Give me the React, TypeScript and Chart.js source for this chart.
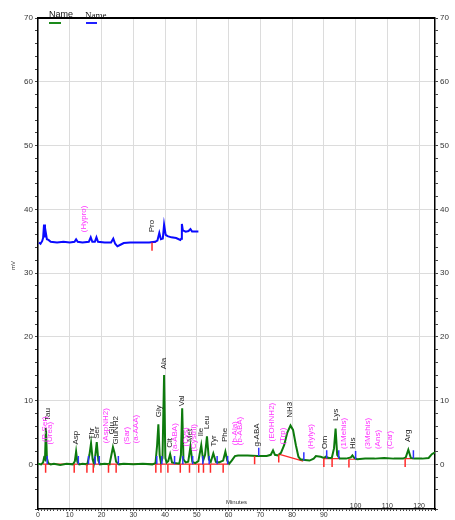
import React, { useEffect, useRef } from "react";
import { Chart, registerables } from "chart.js";
Chart.register(...registerables);

// Green trace (minutes, mV)
const greenTime = [0, 1.0, 1.6, 1.9, 2.2, 2.5, 2.8, 3.2, 4, 5, 7, 9, 11.0, 11.6, 12.0, 12.4, 13, 14, 15.5, 16.2, 16.7, 17.2, 17.6, 18.0, 18.5, 19.0, 19.5, 21, 22.5, 23.0, 23.6, 24.1, 24.6, 25.5, 27, 30, 33, 36, 37.0, 37.5, 37.9, 38.3, 38.7, 39.2, 39.7, 40.1, 40.5, 41.0, 41.6, 42.2, 43, 44.5, 45.0, 45.4, 45.8, 46.5, 47.3, 48.0, 48.6, 49.5, 50.5, 51.4, 52.0, 52.6, 53.2, 53.8, 54.4, 55.2, 56.0, 57, 58.3, 59.0, 59.6, 60.2, 61.0, 62.0, 63, 66, 69, 72, 73.3, 74.0, 74.6, 75.5, 76.5, 77.5, 78.5, 79.5, 80.3, 81.2, 82.0, 82.6, 84, 85.5, 86.8, 87.5, 89, 90.0, 90.6, 91.5, 92.5, 93.2, 93.7, 94.2, 95, 97, 98.5, 99.0, 99.6, 100.5, 103, 106, 109, 112, 115, 115.8, 116.6, 117.4, 118.5, 121, 123, 124, 125];
const greenMv = [0.1, 0.0, 0.3, 1.0, 0.8, 5.7, 1.0, 0.2, 0.0, 0.1, -0.1, 0.1, 0.0, 0.5, 2.0, 0.4, 0.0, 0.1, 0.0, 1.5, 3.3, 0.8, 0.1, 1.2, 3.5, 0.6, 0.0, 0.1, 0.0, 1.2, 2.7, 1.8, 0.4, 0.0, 0.1, 0.0, 0.1, 0.0, 0.2, 3.0, 6.3, 1.5, 0.3, 1.0, 14.0, 1.0, 0.3, 0.5, 1.6, 0.3, 0.2, 0.1, 1.5, 8.8, 0.8, 0.3, 0.4, 2.8, 0.4, 0.2, 0.5, 3.0, 0.6, 1.5, 4.4, 0.8, 0.4, 1.7, 0.4, 0.3, 0.6, 2.0, 0.6, 0.1, 0.6, 1.3, 1.4, 1.4, 1.3, 1.3, 1.5, 2.2, 1.5, 1.4, 1.8, 3.0, 5.0, 6.1, 5.4, 3.0, 1.2, 0.8, 0.7, 0.6, 0.9, 1.3, 1.2, 1.0, 1.2, 1.0, 1.0, 2.5, 5.6, 1.5, 0.9, 0.9, 1.1, 1.4, 1.0, 0.8, 0.9, 0.9, 1.0, 0.9, 0.9, 1.1, 2.3, 1.0, 0.9, 0.9, 1.0, 1.6, 1.9];

// Blue trace (minutes, mV)
const blueTime = [0.3, 0.8, 1.3, 1.6, 1.9, 2.2, 2.4, 2.8, 3.3, 4, 6, 8, 10, 11.5, 12.0, 12.5, 14, 16.0, 16.6, 17.1, 17.9, 18.4, 18.9, 21, 23.0, 23.7, 24.3, 25.0, 25.8, 27, 29, 32, 35, 36.8, 37.6, 38.2, 38.7, 39.3, 39.7, 40.2, 40.8, 42, 43.5, 44.8, 45.1, 45.3, 45.6, 46.5, 47.4, 48.0, 48.5, 50.5];
const blueMv = [34.8, 34.6, 35.0, 35.5, 37.6, 35.6, 36.5, 35.3, 35.2, 34.9, 34.8, 34.9, 34.8, 34.9, 35.3, 34.9, 34.8, 34.9, 35.6, 34.9, 34.9, 35.6, 34.9, 34.8, 34.8, 35.4, 34.6, 34.2, 34.4, 34.7, 34.8, 34.8, 34.8, 34.9, 35.1, 36.3, 35.3, 35.4, 37.6, 36.0, 35.8, 35.6, 35.5, 35.2, 35.4, 37.7, 36.7, 36.5, 36.6, 36.9, 36.5, 36.5];

// Integration marks: peak start (red, downward) and peak end (blue, upward)
const redMarkTime = [2.4, 11.4, 15.4, 17.4, 22.2, 24.6, 37.1, 38.7, 40.9, 44.8, 47.7, 50.6, 52.1, 54.3, 58.3, 68.2, 75.8, 90.0, 92.6, 97.9, 115.6, 35.9];
const redMarkBase = [0, 0, 0, 0, 0, 0, 0, 0, 0, 0, 0, 0, 0, 0, 0, 1.3, 1.6, 0.9, 0.9, 0.8, 0.9, 34.8];
const blueMarkTime = [2.9, 12.7, 15.9, 18.0, 19.3, 25.3, 37.4, 39.0, 43.0, 45.6, 48.7, 51.9, 53.9, 56.4, 59.7, 69.5, 83.7, 90.9, 94.7, 100.0, 118.2];
const blueMarkBase = [0, 0, 0, 0, 0, 0, 0, 0, 0, 0, 0, 0, 0, 0, 0, 1.3, 0.6, 0.9, 0.9, 0.8, 0.9];

// Red integration baselines
const baseStartTime = [1.5, 75.8, 89.8, 97.9, 115.6, 35.5];
const baseStartMv = [0.05, 1.6, 0.9, 0.8, 0.9, 34.8];
const baseEndTime = [60.0, 83.5, 95.0, 100.3, 118.2, 37.2];
const baseEndMv = [0.05, 0.5, 0.9, 0.8, 0.9, 34.8];

// Peak labels
const peakNames = ["Tau", "Asp", "Thr", "Ser", "Glu", "GluNH2", "Gly", "Ala", "Cit", "Val", "Met", "Ile", "Leu", "Tyr", "Phe", "g-ABA", "NH3", "Orn", "Lys", "His", "Arg", "Pro",
  "(P-Ser)", "(Urea)", "(AspNH2)", "(Sar)", "(a-AAA)", "(a-ABA)", "(Cys)", "(Cysthi)", "(b-Ala)", "(b-ABA)", "(EOHNH2)", "(Trp)", "(Hylys)", "(1Mehis)", "(3Mehis)", "(Ans)", "(Car)", "(Hypro)"];
const peakTime = [3.0, 12.0, 16.9, 18.6, 23.3, 24.4, 38.0, 39.6, 41.4, 45.3, 47.7, 51.4, 53.2, 55.3, 58.8, 68.8, 79.4, 90.2, 93.8, 99.0, 116.5, 35.9,
  2.2, 3.6, 21.5, 28.0, 30.9, 43.2, 46.6, 49.0, 62.0, 63.6, 73.7, 77.0, 85.8, 96.3, 103.7, 107.0, 110.8, 14.3];
const peakMv = [6.8, 3.1, 3.9, 4.0, 4.7, 3.1, 7.4, 14.9, 2.6, 9.1, 3.5, 4.4, 5.5, 2.8, 3.5, 2.8, 7.3, 2.4, 6.8, 2.4, 3.5, 36.4,
  3.5, 3.1, 3.3, 3.1, 3.3, 2.0, 2.8, 2.0, 3.0, 3.0, 3.6, 3.1, 2.4, 2.4, 2.4, 2.4, 2.4, 36.4];
const peakIsStandard = [1, 1, 1, 1, 1, 1, 1, 1, 1, 1, 1, 1, 1, 1, 1, 1, 1, 1, 1, 1, 1, 1,
  0, 0, 0, 0, 0, 0, 0, 0, 0, 0, 0, 0, 0, 0, 0, 0, 0, 0];

const upperXLabels = [100, 110, 120];

export default function App() {
  const ref = useRef<HTMLCanvasElement>(null);

  useEffect(() => {
    const canvas = ref.current;
    if (!canvas) return;
    const pts = (xs: number[], ys: number[]) => xs.map((x, i) => ({ x, y: ys[i] }));
    const marks = (ts: number[], bs: number[], d: number) =>
      ts.flatMap((t, i) => [{ x: t, y: bs[i] }, { x: t, y: bs[i] + d }, { x: t, y: null as any }]);
    const baselines = baseStartTime.flatMap((t, i) => [
      { x: t, y: baseStartMv[i] },
      { x: baseEndTime[i], y: baseEndMv[i] },
      { x: baseEndTime[i], y: null as any },
    ]);

    const decor = {
      id: "decor",
      afterDraw(chart: any) {
        const c = chart.ctx as CanvasRenderingContext2D;
        const a = chart.chartArea;
        const xs = chart.scales.x;
        const ys = chart.scales.y;
        c.save();
        // top frame
        c.strokeStyle = "#000";
        c.lineWidth = 2;
        c.beginPath();
        c.moveTo(a.left, a.top);
        c.lineTo(a.right, a.top);
        c.stroke();
        // peak labels
        c.font = "8px 'Liberation Sans', Arial, sans-serif";
        peakNames.forEach((n, i) => {
          const px = xs.getPixelForValue(peakTime[i]);
          const py = ys.getPixelForValue(peakMv[i]);
          c.save();
          c.translate(px, py);
          c.rotate(-Math.PI / 2);
          c.fillStyle = peakIsStandard[i] ? "#1a1a1a" : "#ff33ff";
          c.textAlign = "left";
          c.textBaseline = "middle";
          c.fillText(n, 0, 0);
          c.restore();
        });
        // legend
        c.fillStyle = "#111";
        c.textAlign = "left";
        c.textBaseline = "alphabetic";
        c.font = "9px 'Liberation Sans', Arial, sans-serif";
        c.fillText("Name", 49, 17);
        c.font = "9px 'Liberation Serif', serif";
        c.fillText("Name", 85, 18);
        c.lineWidth = 2;
        c.strokeStyle = "#1a8a1a";
        c.beginPath();
        c.moveTo(49, 23);
        c.lineTo(61, 23);
        c.stroke();
        c.strokeStyle = "#2020ff";
        c.beginPath();
        c.moveTo(86, 23);
        c.lineTo(97, 23);
        c.stroke();
        // axis titles
        c.fillStyle = "#333";
        c.font = "6px 'Liberation Sans', Arial, sans-serif";
        c.textAlign = "center";
        c.textBaseline = "middle";
        c.fillText("Minutes", (a.left + a.right) / 2, a.bottom - 7);
        c.save();
        c.translate(13, (a.top + a.bottom) / 2 + 2);
        c.rotate(-Math.PI / 2);
        c.fillText("mV", 0, 0);
        c.restore();
        // x labels drawn above the axis
        c.font = "7px 'Liberation Sans', Arial, sans-serif";
        c.textBaseline = "alphabetic";
        upperXLabels.forEach((v) => {
          c.fillText(String(v), xs.getPixelForValue(v), a.bottom - 1);
        });
        c.restore();
      },
    };

    const tickFont = { family: "'Liberation Sans', Arial, sans-serif", size: 8 };
    const gridColor = (ctx: any) =>
      ctx.tick && Math.abs(ctx.tick.value % 10) < 1e-9 ? "#dcdcdc" : "rgba(0,0,0,0)";

    const chart = new Chart(canvas, {
      type: "line",
      data: {
        datasets: [
          {
            data: marks(redMarkTime, redMarkBase, -1.3),
            borderColor: "#ff2a2a",
            borderWidth: 1.5,
            pointRadius: 0,
            spanGaps: false,
            order: 0,
          } as any,
          {
            data: marks(blueMarkTime, blueMarkBase, 1.3),
            borderColor: "#3030ff",
            borderWidth: 1.5,
            pointRadius: 0,
            spanGaps: false,
            order: 0,
          } as any,
          {
            data: baselines,
            borderColor: "#ff2a2a",
            borderWidth: 1.2,
            pointRadius: 0,
            spanGaps: false,
            order: 3,
          } as any,
          {
            label: "Name",
            data: pts(greenTime, greenMv),
            borderColor: "#0d7a0d",
            borderWidth: 2,
            pointRadius: 0,
            tension: 0,
            order: 2,
          },
          {
            label: "Name",
            data: pts(blueTime, blueMv),
            borderColor: "#0a0aff",
            borderWidth: 2,
            pointRadius: 0,
            tension: 0,
            order: 1,
          },
        ],
      },
      options: {
        animation: false,
        responsive: false,
        devicePixelRatio: 1,
        layout: { padding: { top: 18, left: 0, right: 0, bottom: 0 } },
        plugins: { legend: { display: false }, tooltip: { enabled: false } },
        scales: {
          x: {
            type: "linear",
            min: 0,
            max: 125,
            afterFit: (s: any) => {
              s.height = 11;
            },
            ticks: {
              stepSize: 1,
              autoSkip: false,
              maxRotation: 0,
              padding: 0,
              font: { family: tickFont.family, size: 7 },
              color: "#333",
              callback: (v: any) => (v % 10 === 0 && v < 100 ? String(v) : ""),
            },
            grid: { color: gridColor, tickColor: "#444", tickLength: 2, lineWidth: 1 },
            border: { color: "#000", width: 1.5 },
          },
          y: {
            type: "linear",
            position: "left",
            min: -7,
            max: 70,
            afterFit: (s: any) => {
              s.width = 38;
            },
            ticks: {
              stepSize: 2,
              autoSkip: false,
              padding: 2,
              font: tickFont,
              color: "#333",
              callback: (v: any) => (v % 10 === 0 ? String(v) : ""),
            },
            grid: { color: gridColor, tickColor: "#444", tickLength: 3, lineWidth: 1 },
            border: { color: "#000", width: 1.5 },
          },
          y2: {
            type: "linear",
            position: "right",
            min: -7,
            max: 70,
            afterFit: (s: any) => {
              s.width = 20;
            },
            ticks: {
              stepSize: 2,
              autoSkip: false,
              padding: 2,
              font: tickFont,
              color: "#333",
              callback: (v: any) => (v % 10 === 0 ? String(v) : ""),
            },
            grid: { drawOnChartArea: false, tickColor: "#444", tickLength: 3 },
            border: { color: "#000", width: 1.5 },
          },
        },
      },
      plugins: [decor],
    });
    return () => chart.destroy();
  }, []);

  return (
    <div style={{ position: "fixed", left: 0, top: 0, width: 455, height: 520, background: "#fff" }}>
      <canvas ref={ref} width={455} height={520} style={{ display: "block", width: 455, height: 520 }} />
    </div>
  );
}
